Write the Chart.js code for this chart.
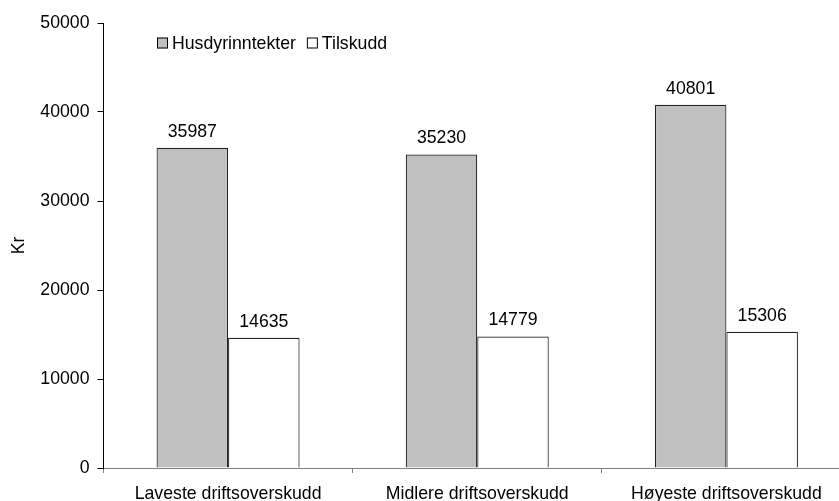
<!DOCTYPE html>
<html>
<head>
<meta charset="utf-8">
<script src="https://cdn.jsdelivr.net/npm/chart.js@4"></script>
<style>
  html, body { margin: 0; padding: 0; background: #fff; overflow: hidden; }
  #wrap { width: 852px; height: 501px; }
</style>
</head>
<body>
<div id="wrap"><canvas id="chart_one"></canvas></div>
<script>
const categories = ['Laveste driftsoverskudd', 'Midlere driftsoverskudd', 'Høyeste driftsoverskudd'];
const husdyr = [35987, 35230, 40801];
const tilskudd = [14635, 14779, 15306];
const yTicks = [0, 10000, 20000, 30000, 40000, 50000];

const FONT = 'Liberation Sans, Arial, sans-serif';
const FS = 17.7;

// value labels above each bar
const valueLabels = {
    id: 'valueLabels',
    afterDatasetsDraw(chart) {
        const ctx = chart.ctx;
        ctx.save();
        ctx.font = FS + 'px ' + FONT;
        ctx.fillStyle = '#000';
        ctx.textAlign = 'center';
        ctx.textBaseline = 'bottom';
        chart.data.datasets.forEach((ds, i) => {
            chart.getDatasetMeta(i).data.forEach((bar, j) => {
                ctx.fillText(String(ds.data[j]), bar.x, bar.y - 7);
            });
        });
        ctx.restore();
    }
};

// legend drawn inside the plot, top left
const innerLegend = {
    id: 'innerLegend',
    afterDraw(chart) {
        const ctx = chart.ctx;
        const area = chart.chartArea;
        let x = area.left + 53.5;
        const y = area.top + 20;
        ctx.save();
        ctx.font = FS + 'px ' + FONT;
        ctx.textBaseline = 'middle';
        chart.data.datasets.forEach((ds) => {
            ctx.fillStyle = ds.backgroundColor;
            ctx.fillRect(x, y - 5.5, 11, 11);
            ctx.strokeStyle = '#000';
            ctx.lineWidth = 1;
            ctx.strokeRect(x + 0.5, y - 5, 10, 10);
            ctx.fillStyle = '#000';
            ctx.textAlign = 'left';
            ctx.fillText(ds.label, x + 15, y + 1);
            x += 15 + ctx.measureText(ds.label).width + 11;
        });
        ctx.restore();
    }
};

new Chart(document.getElementById('chart_one'), {
    type: 'bar',
    data: {
        labels: categories,
        datasets: [{
            label: 'Husdyrinntekter',
            data: husdyr,
            backgroundColor: '#c0c0c0',
            borderColor: '#222',
            borderWidth: 1.2,
            borderSkipped: 'bottom'
        }, {
            label: 'Tilskudd',
            data: tilskudd,
            backgroundColor: '#ffffff',
            borderColor: '#222',
            borderWidth: 1.2,
            borderSkipped: 'bottom'
        }]
    },
    options: {
        responsive: true,
        maintainAspectRatio: false,
        animation: false,
        layout: { padding: { top: 23, right: 1, left: 0, bottom: 0 } },
        datasets: { bar: { categoryPercentage: 0.574, barPercentage: 1 } },
        plugins: {
            legend: { display: false },
            tooltip: { enabled: false }
        },
        scales: {
            x: {
                grid: { display: true, offset: true, drawOnChartArea: false, tickLength: 5, color: '#808080' },
                border: { display: true, color: '#808080', width: 1 },
                ticks: { color: '#000', font: { family: FONT, size: FS }, padding: 10, maxRotation: 0 },
                afterFit(scale) { scale.height = 33; }
            },
            y: {
                min: 0,
                max: 50000,
                afterBuildTicks(scale) { scale.ticks = yTicks.map(v => ({ value: v })); },
                grid: { display: true, drawOnChartArea: false, drawTicks: true, tickLength: 6, color: '#000' },
                border: { display: true, color: '#000', width: 1 },
                ticks: { color: '#000', font: { family: FONT, size: FS }, padding: 8, callback: (v) => String(v) },
                title: { display: true, text: 'Kr', color: '#000', font: { family: FONT, size: FS }, padding: { top: 8, bottom: 0 } },
                afterFit(scale) { scale.width = 103.5; }
            }
        }
    },
    plugins: [valueLabels, innerLegend]
});
</script>
</body>
</html>
